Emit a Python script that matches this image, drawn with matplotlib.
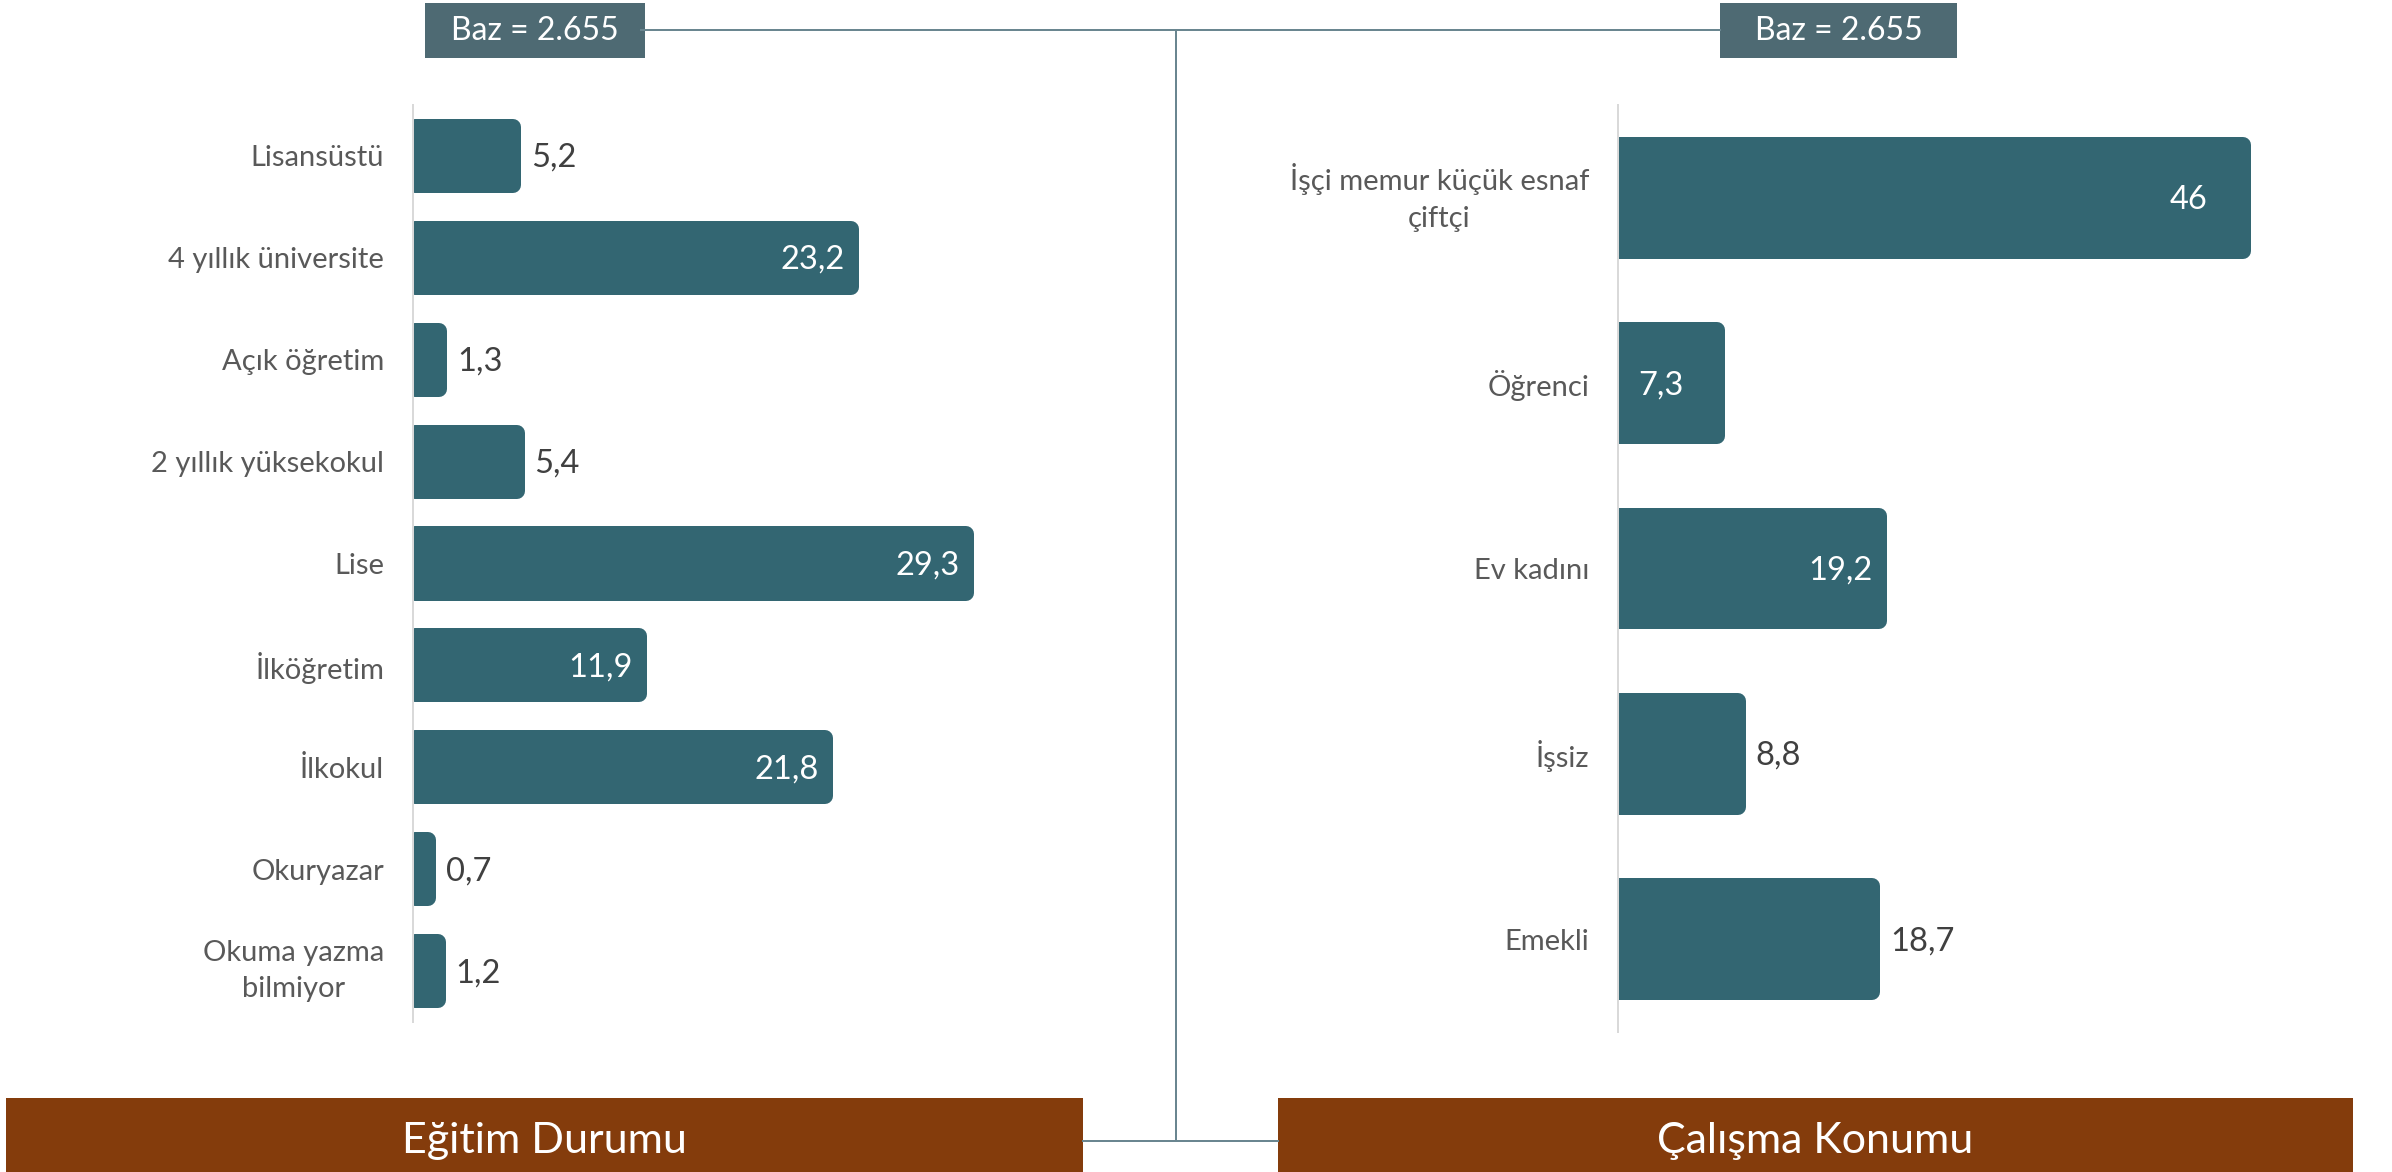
import matplotlib
matplotlib.use("Agg")
import matplotlib.pyplot as plt
from matplotlib.patches import Rectangle
from matplotlib.lines import Line2D

plt.rcParams['font.family'] = ['Lato', 'DejaVu Sans']

# ---------------- data ----------------
edu_labels = ["Lisansüstü", "4 yıllık üniversite", "Açık öğretim", "2 yıllık yüksekokul",
              "Lise", "İlköğretim", "İlkokul", "Okuryazar", "Okuma yazma\nbilmiyor"]
edu_values = [5.2, 23.2, 1.3, 5.4, 29.3, 11.9, 21.8, 0.7, 1.2]
edu_inside = [False, True, False, False, True, True, True, False, False]

work_labels = ["İşçi memur küçük esnaf\nçiftçi", "Öğrenci", "Ev kadını", "İşsiz", "Emekli"]
work_values = [46, 7.3, 19.2, 8.8, 18.7]
work_inside = [True, True, True, False, False]

base_text = "Baz = 2.655"
left_title = "Eğitim Durumu"
right_title = "Çalışma Konumu"

# ---------------- style ----------------
W, H = 2392, 1172
BAR = "#336672"
BOX = "#4e6a73"
BROWN = "#843c0c"
LINE = "#6a8690"
CAT = "#595959"
VAL = "#404040"
PT = 0.72  # points per pixel at dpi 100
edu_nudge = [0, 0, 0, 0, 0, 0, 0, 0, 0]        # extra label shift, px
work_nudge = [-30, -28, 0, 0, 0]

fig = plt.figure(figsize=(W / 100, H / 100), dpi=100)
fig.patch.set_facecolor("white")


def fx(px):
    return px / W


def fy(py):
    return 1 - py / H


def fmt(v):
    return str(int(v)) if float(v).is_integer() else f"{v:.1f}".replace(".", ",")


def panel(left, right, top, bottom, zero_off, scale, labels, values, inside, nudge):
    ax = fig.add_axes([fx(left), fy(bottom), (right - left) / W, (bottom - top) / H])
    n = len(labels)
    y = list(range(n))
    ax.barh(y, values, height=0.57, color=BAR, edgecolor=BAR,
            linewidth=16 * PT, joinstyle="round", zorder=3)
    xmin = -zero_off / scale
    ax.set_xlim(xmin, xmin + (right - left) / scale)
    ax.set_ylim(n - 0.5, -0.5)
    ax.set_yticks(y)
    ax.set_yticklabels(labels, fontsize=21, color=CAT, multialignment="center",
                       linespacing=1.5)
    for tl in ax.get_yticklabels():
        if "\n" in tl.get_text():
            tl.set_verticalalignment("center")
    ax.tick_params(axis="y", length=0, pad=29 * PT)
    ax.set_xticks([])
    for s in ["top", "right", "bottom"]:
        ax.spines[s].set_visible(False)
    ax.spines["left"].set_color("#d9d9d9")
    ax.spines["left"].set_linewidth(2 * PT)
    ax.spines["left"].set_zorder(4)
    for yi, v, ins, nd in zip(y, values, inside, nudge):
        if ins:
            ax.annotate(fmt(v), xy=(v, yi), xytext=((-6 + nd) * PT, -2 * PT), textcoords="offset points",
                        ha="right", va="center", fontsize=23.5, color="white", zorder=5)
        else:
            ax.annotate(fmt(v), xy=(v, yi), xytext=((18 + nd) * PT, -2 * PT), textcoords="offset points",
                        ha="left", va="center", fontsize=23.5, color=VAL, zorder=5)
    return ax


panel(413, 1100, 105, 1022, 2, 18.8, edu_labels, edu_values, edu_inside, edu_nudge)
panel(1618, 2380, 105, 1032, 0, 13.59, work_labels, work_values, work_inside, work_nudge)

# ---------------- connectors ----------------
lw = 2 * PT
fig.add_artist(Line2D([fx(641), fx(1720)], [fy(30), fy(30)], color=LINE, lw=lw))
fig.add_artist(Line2D([fx(1176), fx(1176)], [fy(30), fy(1141)], color=LINE, lw=lw))
fig.add_artist(Line2D([fx(1083), fx(1278)], [fy(1141), fy(1141)], color=LINE, lw=lw))

# ---------------- base boxes ----------------
for (x0, x1) in [(425, 645), (1720, 1957)]:
    fig.add_artist(Rectangle((fx(x0), fy(58)), (x1 - x0) / W, 55 / H,
                             facecolor=BOX, edgecolor="none", transform=fig.transFigure))
    fig.text(fx((x0 + x1) / 2), fy(31), base_text, ha="center", va="center",
             fontsize=23, color="white")

# ---------------- title boxes ----------------
for (x0, x1), t in [((6, 1083), left_title), ((1278, 2353), right_title)]:
    fig.add_artist(Rectangle((fx(x0), fy(1172)), (x1 - x0) / W, 74 / H,
                             facecolor=BROWN, edgecolor="none", transform=fig.transFigure))
    fig.text(fx((x0 + x1) / 2), fy(1141), t, ha="center", va="center",
             fontsize=31, color="white")

fig.savefig("out.png", dpi=100, facecolor="white")
